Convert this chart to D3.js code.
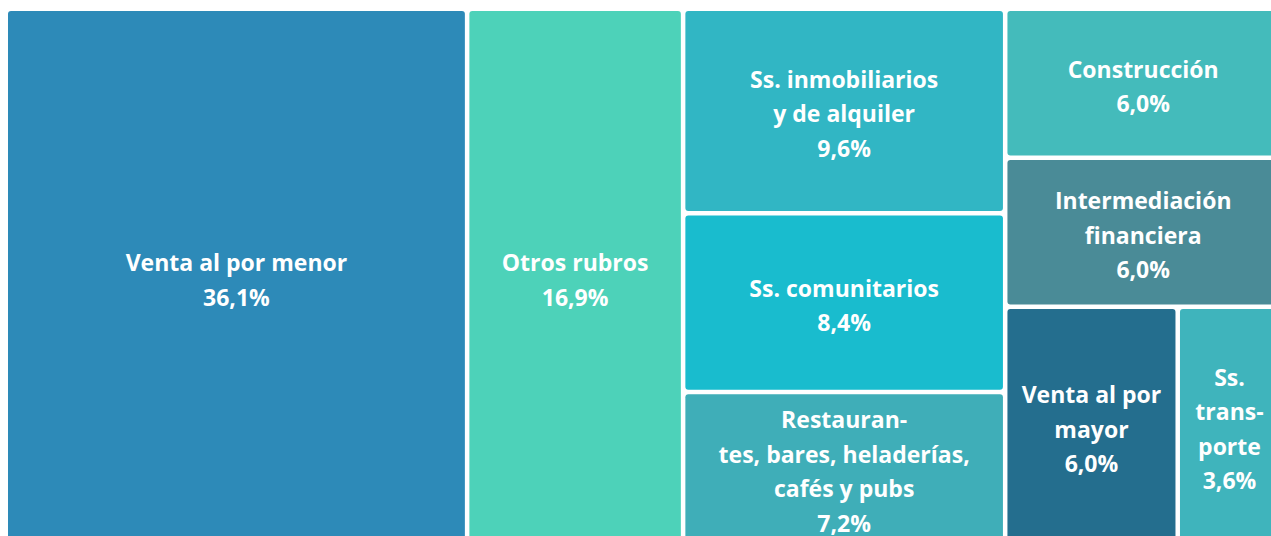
<!DOCTYPE html>
<html>
<head>
<meta charset="utf-8">
<script src="https://cdn.jsdelivr.net/npm/d3@7"></script>
<style>
  body { margin: 0; background: #fff; }
  svg { display: block; }
</style>
</head>
<body>
<div id="chart"></div>
<script>
// rubros (con saltos de línea como en la imagen), participación en %
var categories = [
  "Venta al por menor",
  "Otros rubros",
  "Ss. inmobiliarios\ny de alquiler",
  "Ss. comunitarios",
  "Restauran-\ntes, bares, heladerías,\ncafés y pubs",
  "Construcción",
  "Intermediación\nfinanciera",
  "Venta al por\nmayor",
  "Ss.\ntrans-\nporte"
];
var values = [36.1, 16.9, 9.6, 8.4, 7.2, 6.0, 6.0, 6.0, 3.6];
// grupo de cada rubro dentro del treemap
var groups = ["a", "b", "c", "c", "c", "d", "d", "d/e", "d/e"];

var colors = ["#2d8ab8", "#4dd2b9", "#31b6c4", "#19bcce", "#3faeb8",
              "#44bbbb", "#4a8b97", "#246e8e", "#3fb4bc"];

var width = 1271, height = 536;

var svg = d3.select("#chart").append("svg")
    .attr("width", width)
    .attr("height", height);

// armar jerarquia: raiz -> columnas -> (fila inferior)
var root = {name: "root", children: []};
function findChild(parent, name) {
  for (var i = 0; i < parent.children.length; i++) {
    if (parent.children[i].name === name) return parent.children[i];
  }
  var n = {name: name, children: []};
  parent.children.push(n);
  return n;
}
categories.forEach(function(c, i) {
  var path = groups[i].split("/");
  var node = root;
  path.forEach(function(p) { node = findChild(node, p); });
  node.children.push({name: c, value: values[i], idx: i});
});

var hier = d3.hierarchy(root)
    .sum(function(d) { return d.value || 0; });

d3.treemap()
    .tile(d3.treemapSliceDice)
    .size([1271, 532])
    .paddingInner(4.5)
    .round(false)(hier);

var fmt = function(v) { return d3.format(".1f")(v).replace(".", ",") + "%"; };

var g = svg.append("g").attr("transform", "translate(8,11)");

var cell = g.selectAll("g.cell")
    .data(hier.leaves())
    .enter().append("g")
    .attr("class", "cell")
    .attr("transform", function(d) { return "translate(" + d.x0 + "," + d.y0 + ")"; });

cell.append("rect")
    .attr("width", function(d) { return d.x1 - d.x0; })
    .attr("height", function(d) { return d.y1 - d.y0; })
    .attr("rx", 3)
    .attr("fill", function(d) { return colors[d.data.idx]; });

var lineH = 34.5;
cell.each(function(d) {
  var lines = d.data.name.split("\n");
  lines.push(fmt(d.data.value));
  var w = d.x1 - d.x0, h = d.y1 - d.y0;
  var top = h / 2 - (lines.length - 1) * lineH / 2 + 3.5;
  var t = d3.select(this).append("text")
      .attr("text-anchor", "middle")
      .attr("font-family", "'Open Sans', sans-serif")
      .attr("font-weight", 700)
      .attr("font-size", "23px")
      .attr("fill", "#fff");
  lines.forEach(function(l, i) {
    t.append("tspan")
      .attr("x", w / 2)
      .attr("y", top + i * lineH)
      .attr("dy", "0.35em")
      .text(l);
  });
});
</script>
</body>
</html>
